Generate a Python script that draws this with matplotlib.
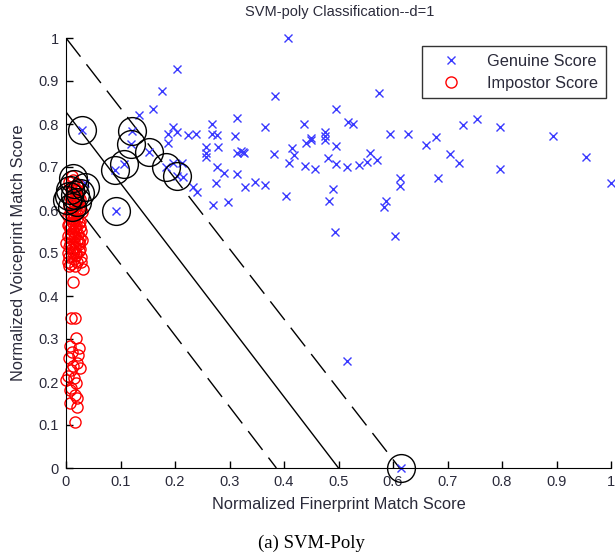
import matplotlib
matplotlib.use('Agg')
from matplotlib import pyplot as plt

plt.rcParams['font.family'] = ['Liberation Sans', 'DejaVu Sans']

# genuine scores (fingerprint, voiceprint)
genuine_x = [0.408, 0.204, 0.176, 0.160, 0.134, 0.029, 0.121, 0.197, 0.204, 0.187,
             0.224, 0.239, 0.268, 0.268, 0.277, 0.314, 0.311, 0.384, 0.574, 0.496,
             0.366, 0.436, 0.517, 0.526, 0.594, 0.627, 0.476, 0.476, 0.450, 0.678,
             0.728, 0.754, 0.796, 0.893, 0.660, 0.704, 0.722, 0.796, 0.682, 0.954,
             1.000, 0.322, 0.326, 0.324, 0.382, 0.415, 0.419, 0.410, 0.441, 0.449,
             0.476, 0.496, 0.439, 0.456, 0.480, 0.496, 0.516, 0.537, 0.553, 0.557,
             0.570, 0.612, 0.612, 0.329, 0.347, 0.366, 0.403, 0.489, 0.483, 0.588,
             0.583, 0.493, 0.603, 0.119, 0.153, 0.187, 0.107, 0.090, 0.184, 0.197,
             0.213, 0.204, 0.215, 0.233, 0.241, 0.256, 0.256, 0.256, 0.279, 0.277,
             0.289, 0.276, 0.314, 0.314, 0.270, 0.298, 0.092, 0.515, 0.614, 0.035]
genuine_y = [1.000, 0.928, 0.877, 0.835, 0.821, 0.786, 0.784, 0.793, 0.781, 0.777,
             0.774, 0.777, 0.800, 0.777, 0.774, 0.814, 0.772, 0.865, 0.872, 0.835,
             0.793, 0.800, 0.805, 0.800, 0.777, 0.777, 0.781, 0.772, 0.767, 0.770,
             0.798, 0.812, 0.793, 0.772, 0.751, 0.730, 0.709, 0.695, 0.674, 0.723,
             0.663, 0.737, 0.733, 0.735, 0.730, 0.744, 0.728, 0.709, 0.756, 0.763,
             0.763, 0.749, 0.702, 0.695, 0.721, 0.707, 0.700, 0.705, 0.712, 0.733,
             0.716, 0.674, 0.656, 0.653, 0.665, 0.658, 0.633, 0.649, 0.621, 0.621,
             0.607, 0.549, 0.540, 0.753, 0.735, 0.756, 0.707, 0.693, 0.700, 0.709,
             0.709, 0.679, 0.677, 0.653, 0.642, 0.747, 0.733, 0.723, 0.747, 0.700,
             0.686, 0.663, 0.733, 0.684, 0.612, 0.619, 0.598, 0.249, 0.000, 0.663]

# impostor scores
impostor_x = [0.013, 0.031, 0.000, 0.009, 0.017, 0.018, 0.024, 0.000, 0.017, 0.020,
              0.007, 0.020, 0.007, 0.018, 0.009, 0.020, 0.012, 0.006, 0.011, 0.022,
              0.004, 0.015, 0.026, 0.010, 0.016, 0.008,
              0.003, 0.006, 0.009, 0.012, 0.015, 0.018, 0.021, 0.024, 0.027, 0.005,
              0.008, 0.011, 0.014, 0.017, 0.020, 0.023, 0.026, 0.004, 0.007, 0.010,
              0.013, 0.016, 0.019, 0.022, 0.025, 0.028, 0.006, 0.009, 0.012, 0.015,
              0.018, 0.021, 0.024, 0.003, 0.008, 0.011, 0.014, 0.017, 0.020, 0.023,
              0.005, 0.010, 0.013, 0.016, 0.019, 0.022, 0.026, 0.030, 0.007, 0.012,
              0.018, 0.024, 0.009, 0.015, 0.021, 0.006, 0.013, 0.019, 0.025, 0.011,
              0.004, 0.014, 0.023, 0.029, 0.008, 0.017, 0.026, 0.012, 0.021, 0.005,
              0.016, 0.027, 0.010, 0.019, 0.003, 0.022, 0.014, 0.009, 0.025, 0.018]
impostor_y = [0.433, 0.463, 0.523, 0.349, 0.349, 0.302, 0.279, 0.205, 0.107, 0.142,
              0.151, 0.163, 0.181, 0.198, 0.228, 0.244, 0.237, 0.256, 0.270, 0.262,
              0.215, 0.210, 0.232, 0.187, 0.170, 0.284,
              0.480, 0.490, 0.475, 0.500, 0.485, 0.495, 0.480, 0.505, 0.490, 0.515,
              0.520, 0.510, 0.525, 0.515, 0.530, 0.520, 0.510, 0.540, 0.535, 0.545,
              0.550, 0.540, 0.555, 0.545, 0.535, 0.550, 0.565, 0.560, 0.570, 0.575,
              0.565, 0.580, 0.570, 0.585, 0.590, 0.595, 0.585, 0.600, 0.590, 0.605,
              0.610, 0.615, 0.620, 0.610, 0.625, 0.615, 0.600, 0.595, 0.630, 0.640,
              0.635, 0.645, 0.650, 0.655, 0.660, 0.665, 0.670, 0.650, 0.625, 0.680,
              0.500, 0.505, 0.525, 0.530, 0.555, 0.560, 0.575, 0.580, 0.600, 0.470,
              0.470, 0.480, 0.545, 0.500, 0.565, 0.630, 0.535, 0.590, 0.560, 0.620]

# support vectors
sv_x = [0.029, 0.121, 0.119, 0.153, 0.107, 0.090, 0.184, 0.204, 0.092, 0.614,
        0.013, 0.035, 0.007, 0.017, 0.002, 0.020, 0.011, 0.005, 0.025, 0.015]
sv_y = [0.786, 0.784, 0.753, 0.735, 0.707, 0.693, 0.700, 0.679, 0.598, 0.000,
        0.674, 0.653, 0.647, 0.635, 0.623, 0.619, 0.607, 0.632, 0.640, 0.660]

# decision boundary and margins: (y-intercept, x-intercept)
boundary = (0.828, 0.500)
margin_upper = (1.000, 0.612)
margin_lower = (0.640, 0.386)

text_col = '#2a2a3a'

fig = plt.figure(figsize=(6.15, 5.52), dpi=100)
ax = fig.add_axes([66 / 615, 84 / 552, 545 / 615, 430 / 552])

ax.plot([0, boundary[1]], [boundary[0], 0], color='black', lw=1)
for m in (margin_upper, margin_lower):
    ax.plot([0, m[1]], [m[0], 0], color='black', lw=1, dashes=(17, 7))

ax.plot(genuine_x, genuine_y, 'x', color='#3a3aff', ms=5.5, mew=1,
        label='Genuine Score', clip_on=False)
ax.plot(impostor_x, impostor_y, 'o', mfc='none', mec='red', ms=8, mew=1,
        label='Impostor Score', clip_on=False)
ax.plot(sv_x, sv_y, 'o', mfc='none', mec='black', ms=20, mew=1, clip_on=False)

ax.set_xlim(0, 1)
ax.set_ylim(0, 1)
ticks = [i / 10 for i in range(11)]
tick_labels = ['0', '0.1', '0.2', '0.3', '0.4', '0.5', '0.6', '0.7', '0.8', '0.9', '1']
ax.set_xticks(ticks)
ax.set_xticklabels(tick_labels)
ax.set_yticks(ticks)
ax.set_yticklabels(tick_labels)
ax.tick_params(direction='in', length=5, width=1, labelsize=10.5,
               labelcolor=text_col, pad=5)
ax.spines['top'].set_visible(False)
ax.spines['right'].set_visible(False)

ax.set_xlabel('Normalized Finerprint Match Score', fontsize=11.8, color=text_col)
ax.set_ylabel('Normalized Voiceprint Match Score', fontsize=11.8, color=text_col)
ax.xaxis.set_label_coords(0.5, -0.068)
ax.yaxis.set_label_coords(-0.074, 0.5)
ax.text(0.503, 1.06, 'SVM-poly Classification--d=1', transform=ax.transAxes,
        ha='center', va='center', fontsize=10.5, color=text_col)

leg = ax.legend(loc='upper right', bbox_to_anchor=(0.99, 0.981), borderaxespad=0,
                fancybox=False, edgecolor='black', fontsize=11.8, handlelength=2.6,
                handletextpad=0.9, borderpad=0.45, labelspacing=0.45)
leg.get_frame().set_linewidth(1)
for t in leg.get_texts():
    t.set_color(text_col)

fig.text(0.507, 0.016, '(a) SVM-Poly', ha='center', va='center',
         fontsize=13.5, family='Liberation Serif')

fig.savefig('out.png', dpi=100)
